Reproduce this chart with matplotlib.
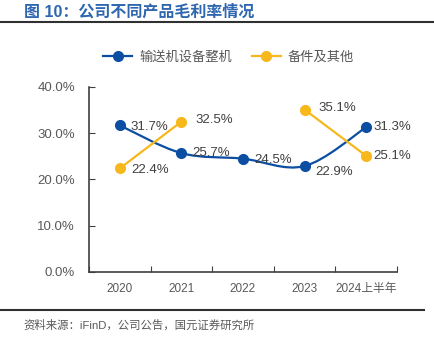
import numpy as np
import matplotlib.pyplot as plt
from matplotlib.path import Path
from matplotlib.patches import PathPatch
from matplotlib.lines import Line2D

plt.rcParams['font.family'] = ['Liberation Sans', 'Noto Sans CJK SC', 'DejaVu Sans']

years = ["2020", "2021", "2022", "2023", "2024上半年"]
machines = [31.7, 25.7, 24.5, 22.9, 31.3]        # 输送机设备整机
parts = [22.4, 32.5, np.nan, 35.1, 25.1]         # 备件及其他

BLUE = "#0B4EA2"
ORANGE = "#F7B81C"
GREY = "#595959"


def smooth_path(xs, ys):
    # Catmull-Rom segments converted to cubic Bezier pieces
    pts = np.column_stack([xs, ys])
    verts = [pts[0]]
    codes = [Path.MOVETO]
    n = len(pts)
    for i in range(n - 1):
        p0 = pts[max(i - 1, 0)]
        p1 = pts[i]
        p2 = pts[i + 1]
        p3 = pts[min(i + 2, n - 1)]
        c1 = p1 + (p2 - p0) / 6
        c2 = p2 - (p3 - p1) / 6
        verts += [c1, c2, p2]
        codes += [Path.CURVE4] * 3
    return Path(verts, codes)


fig = plt.figure(figsize=(4.35, 3.42), dpi=100)
ax = fig.add_axes([0.2046, 0.2047, 0.708, 0.541])

x = np.arange(len(years))

# machines: one smooth curve
ax.add_patch(PathPatch(smooth_path(x, machines), fill=False, ec=BLUE, lw=1.6, zorder=3))
ax.plot(x, machines, "o", color=BLUE, ms=7, zorder=4)

# parts: split at the missing year
p = np.array(parts)
seg = []
for i in range(len(p) + 1):
    if i < len(p) and not np.isnan(p[i]):
        seg.append(i)
    else:
        if len(seg) > 1:
            ax.add_patch(PathPatch(smooth_path(x[seg], p[seg]), fill=False, ec=ORANGE, lw=1.6, zorder=3))
        seg = []
ax.plot(x, p, "o", color=ORANGE, ms=7, zorder=4, linestyle="none")

# value labels
lab_kw = dict(textcoords="offset points", fontsize=9.5, color="#404040", va="center", ha="left")
m_off = [(8, -1), (8, 0), (8, -1), (8, -4), (5, 0)]
for xi, v, off in zip(x, machines, m_off):
    ax.annotate(f"{v:.1f}%", (xi, v), xytext=off, **lab_kw)
o_off = [(8, -1), (10, 1), None, (10, 1), (5, 0)]
for xi, v, off in zip(x, parts, o_off):
    if np.isnan(v):
        continue
    ax.annotate(f"{v:.1f}%", (xi, v), xytext=off, **lab_kw)

ax.set_xlim(-0.5, len(years) - 0.5)
ax.set_ylim(0, 40)
ax.set_yticks(np.arange(0, 41, 10))
ax.set_yticklabels([f"{v:.1f}%" for v in np.arange(0, 41, 10)])
ax.set_xticks(np.arange(-0.5, len(years), 1))
ax.set_xticklabels([])
ax.set_xticks(x, minor=True)
ax.set_xticklabels(years, minor=True)
ax.tick_params(axis="x", which="minor", length=0, pad=8, labelsize=8.5, colors=GREY)
ax.tick_params(axis="x", which="major", direction="in", length=4, color="#404040")
ax.tick_params(axis="y", direction="in", length=4, color="#404040", labelsize=9.5,
               labelcolor=GREY, pad=10)
for s in ["top", "right"]:
    ax.spines[s].set_visible(False)
for s in ["left", "bottom"]:
    ax.spines[s].set_color("#404040")
    ax.spines[s].set_linewidth(1.2)

handles = [Line2D([], [], color=BLUE, marker="o", ms=7, lw=1.6),
           Line2D([], [], color=ORANGE, marker="o", ms=7, lw=1.6)]
fig.legend(handles, ["输送机设备整机", "备件及其他"], loc="center", bbox_to_anchor=(0.525, 0.833),
           ncol=2, frameon=False, fontsize=9.5, labelcolor=GREY, handlelength=2.2,
           columnspacing=1.5, handletextpad=0.5)

# header, rules and source
fig.text(0.055, 0.965, "图 10：公司不同产品毛利率情况", fontsize=11.5, fontweight="bold",
         color="#2E66B0", va="center", ha="left")
fig.add_artist(Line2D([0, 1], [0.935, 0.935], color="#303030", lw=1.5, transform=fig.transFigure))
fig.add_artist(Line2D([0, 0.975], [0.094, 0.094], color="#303030", lw=1.5, transform=fig.transFigure))
fig.text(0.053, 0.049, "资料来源：iFinD，公司公告，国元证券研究所", fontsize=8.2, color=GREY,
         va="center", ha="left")

fig.savefig("out.png", dpi=100)
